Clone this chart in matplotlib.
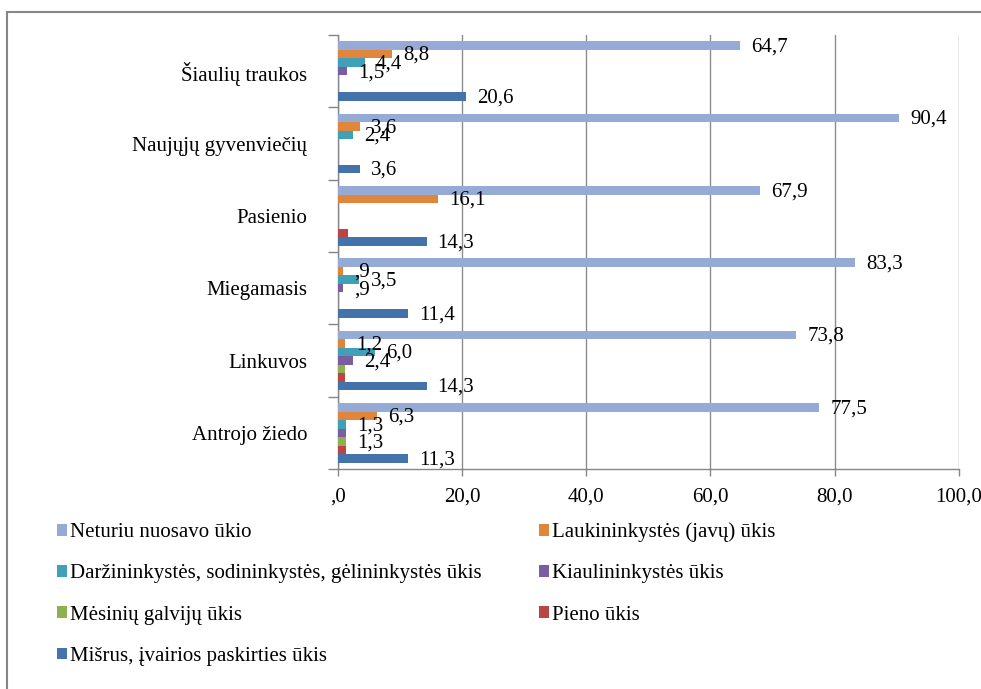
import numpy as np
import matplotlib
matplotlib.use('Agg')
import matplotlib.pyplot as plt
from matplotlib.patches import Rectangle

plt.rcParams['font.family'] = ['Liberation Serif', 'DejaVu Serif']

# categories from bottom to top
categories = ['Antrojo žiedo', 'Linkuvos', 'Miegamasis', 'Pasienio',
              'Naujųjų gyvenviečių', 'Šiaulių traukos']

series_names = ['Neturiu nuosavo ūkio',
                'Laukininkystės (javų) ūkis',
                'Daržininkystės, sodininkystės, gėlininkystės ūkis',
                'Kiaulininkystės ūkis',
                'Mėsinių galvijų ūkis',
                'Pieno ūkis',
                'Mišrus, įvairios paskirties ūkis']

neturiu = [77.5, 73.8, 83.3, 67.9, 90.4, 64.7]
laukininkystes = [6.3, 1.2, 0.9, 16.1, 3.6, 8.8]
darzininkystes = [1.3, 6.0, 3.5, 0.0, 2.4, 4.4]
kiaulininkystes = [1.3, 2.4, 0.9, 0.0, 0.0, 1.5]
mesiniu = [1.3, 1.2, 0.0, 0.0, 0.0, 0.0]
pieno = [1.3, 1.2, 0.0, 1.7, 0.0, 0.0]
misrus = [11.3, 14.3, 11.4, 14.3, 3.6, 20.6]

series_values = [neturiu, laukininkystes, darzininkystes, kiaulininkystes,
                 mesiniu, pieno, misrus]

# which data labels are visible in the original (others hidden by overlap)
show_labels = [
    [1, 1, 1, 1, 1, 1],
    [1, 1, 1, 1, 1, 1],
    [1, 1, 1, 1, 1, 1],
    [0, 1, 1, 1, 1, 1],
    [1, 0, 0, 0, 0, 0],
    [0, 0, 0, 0, 0, 0],
    [1, 1, 1, 1, 1, 1],
]

colors = ['#95ABD5', '#E0853C', '#40A0B8', '#7A5EA0', '#8FB050', '#B94544', '#4472AA']

x_ticks = [0, 20, 40, 60, 80, 100]


def fmt(v):
    s = f'{v:.1f}'.replace('.', ',')
    if s.startswith('0,'):
        s = s[1:]
    return s


fig = plt.figure(figsize=(9.81, 6.89), dpi=100)
ax = fig.add_axes([0.3442, 0.3193, 0.6334, 0.6299])

h = 0.1176
y_base = np.arange(len(categories))
for j, (vals, col) in enumerate(zip(series_values, colors)):
    ys = y_base + (3 - j) * h
    ax.barh(ys, vals, height=h, color=col, linewidth=0,
            label=series_names[j], zorder=3)
    for k, v in enumerate(vals):
        if v > 0 and show_labels[j][k]:
            ax.annotate(fmt(v), (v, ys[k]), xytext=(8, -1), textcoords='offset points',
                        va='center', ha='left', fontsize=15, color='black', zorder=4)

ax.set_xlim(0, 100)
ax.set_ylim(-0.5, len(categories) - 0.5)
ax.set_xticks(x_ticks)
ax.set_xticklabels([fmt(t) if t else ',0' for t in x_ticks], fontsize=15)
ax.set_yticks(y_base)
ax.set_yticklabels(categories, fontsize=15)
ax.set_yticks(np.arange(-0.5, len(categories)), minor=True)
ax.tick_params(axis='y', which='major', length=0, pad=22)
ax.tick_params(axis='y', which='minor', length=7, color='#868686', width=1)
ax.tick_params(axis='x', length=5, color='#868686', width=1, pad=8)

ax.grid(axis='x', color='#8C8C8C', linewidth=1, zorder=0)
for side in ['top', 'right']:
    ax.spines[side].set_visible(False)
for side in ['left', 'bottom']:
    ax.spines[side].set_color('#868686')
    ax.spines[side].set_linewidth(1)

handles, labels = ax.get_legend_handles_labels()
order = [0, 2, 4, 6, 1, 3, 5]
fig.legend([handles[i] for i in order], [labels[i] for i in order],
           loc='upper left', bbox_to_anchor=(0.058, 0.242), ncol=2,
           frameon=False, fontsize=15, handlelength=0.5, handleheight=0.5,
           handletextpad=0.15, labelspacing=1.07, columnspacing=2.72,
           borderpad=0, borderaxespad=0)

fig.patches.append(Rectangle((7 / 981, -0.5), 2, 1.5 - 12 / 689, transform=fig.transFigure,
                             fill=False, edgecolor='#868686', linewidth=1.5))

fig.savefig('out.png', dpi=100)
